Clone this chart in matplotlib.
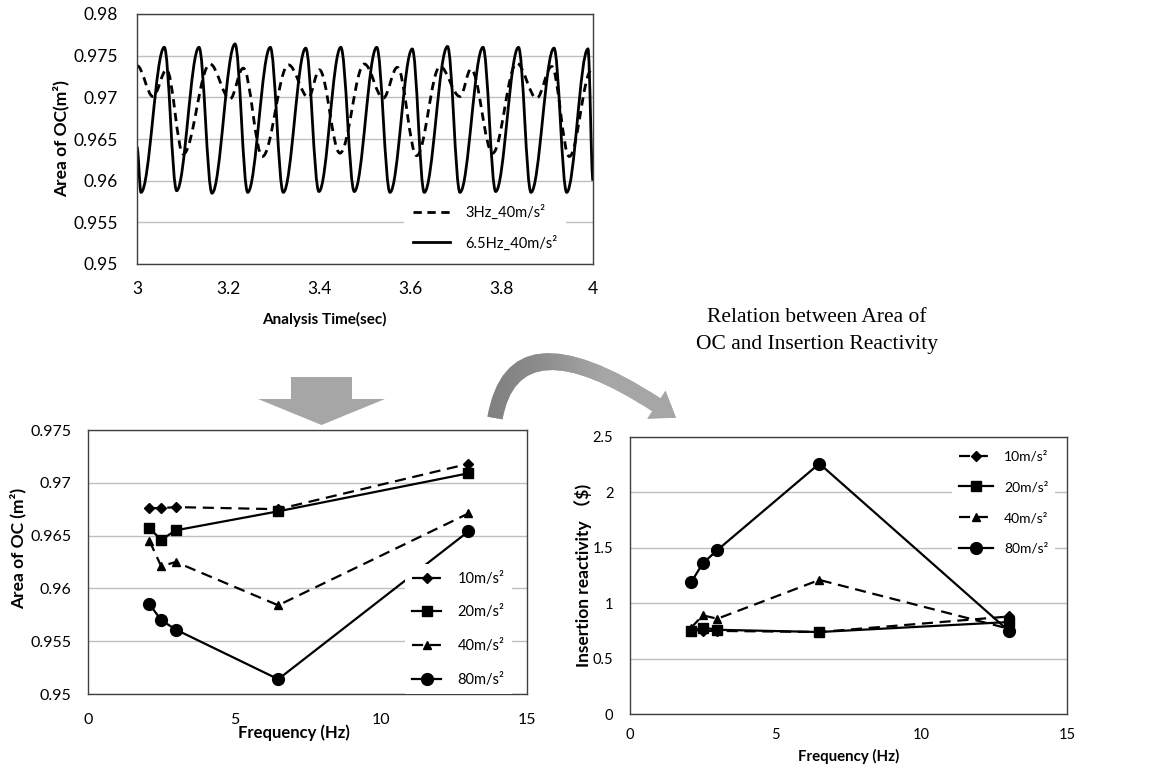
import numpy as np
import matplotlib
matplotlib.use("Agg")
import matplotlib.pyplot as plt
from matplotlib.path import Path
from matplotlib.patches import PathPatch, FancyArrowPatch, Polygon
from matplotlib.lines import Line2D
from matplotlib.colors import LinearSegmentedColormap

plt.rcParams['font.family'] = ['Lato', 'DejaVu Sans']

# ---- top chart: extrema (time, area) ----
t_3hz = [3.000, 3.035, 3.065, 3.1015, 3.160, 3.204, 3.233, 3.275, 3.332, 3.376,
         3.400, 3.445, 3.4985, 3.540, 3.571, 3.6134, 3.6645, 3.7083, 3.7325,
         3.780, 3.8327, 3.8765, 3.9094, 3.948, 3.997, 4.000]
a_3hz = [0.9738, 0.9701, 0.9733, 0.9632, 0.9740, 0.9698, 0.9735, 0.9629, 0.9739, 0.9700,
         0.9733, 0.9633, 0.9740, 0.9699, 0.9736, 0.9630, 0.9737, 0.9701, 0.9734,
         0.9633, 0.9741, 0.9699, 0.9737, 0.9629, 0.9733, 0.9734]

t_65hz = [3.000, 3.0088, 3.0599, 3.087, 3.136, 3.1645, 3.215, 3.2428, 3.2923, 3.3208,
          3.370, 3.399, 3.447, 3.4765, 3.5257, 3.5548, 3.6037, 3.630, 3.681, 3.7083,
          3.7588, 3.7866, 3.8366, 3.864, 3.9145, 3.9423, 3.989, 4.000]
a_65hz = [0.9640, 0.9586, 0.9760, 0.9588, 0.9760, 0.9585, 0.9764, 0.9586, 0.9760, 0.9586,
          0.9759, 0.9587, 0.9760, 0.9587, 0.9760, 0.9586, 0.9758, 0.9586, 0.9761, 0.9586,
          0.9760, 0.9587, 0.9760, 0.9586, 0.9759, 0.9586, 0.9758, 0.9600]

# ---- bottom charts ----
freq = [2.1, 2.5, 3, 6.5, 13]
area = {
    '10': [0.9676, 0.9676, 0.9677, 0.9675, 0.9718],
    '20': [0.9657, 0.9646, 0.9655, 0.9673, 0.9709],
    '40': [0.9645, 0.9621, 0.9625, 0.9584, 0.9671],
    '80': [0.9585, 0.9570, 0.9561, 0.9514, 0.9654],
}
react = {
    '10': [0.76, 0.75, 0.75, 0.74, 0.88],
    '20': [0.75, 0.78, 0.76, 0.74, 0.83],
    '40': [0.78, 0.89, 0.86, 1.21, 0.77],
    '80': [1.19, 1.36, 1.48, 2.26, 0.75],
}
series_style = {
    '10': dict(ls=(0, (5, 3)), marker='D', ms=5),
    '20': dict(ls='-', marker='s', ms=7),
    '40': dict(ls=(0, (5, 3)), marker='^', ms=6),
    '80': dict(ls='-', marker='o', ms=8.5),
}

W, H = 1176, 774
fig = plt.figure(figsize=(W / 100, H / 100), dpi=100)


def px_axes(l, t, r, b):
    return fig.add_axes([l / W, 1 - b / H, (r - l) / W, (b - t) / H])


def style_axes(ax, fs):
    for s in ax.spines.values():
        s.set_color('#404040')
        s.set_linewidth(1.0)
    ax.tick_params(length=0, labelsize=fs)
    ax.grid(axis='y', color='#BFBFBF', lw=1.0)
    ax.set_axisbelow(True)


def smooth_path(t, y, k=0.364):
    # cubic bezier through the read extrema, flat tangent at each one
    verts = [(t[0], y[0])]
    codes = [Path.MOVETO]
    for i in range(len(t) - 1):
        dt = t[i + 1] - t[i]
        verts += [(t[i] + k * dt, y[i]), (t[i + 1] - k * dt, y[i + 1]), (t[i + 1], y[i + 1])]
        codes += [Path.CURVE4] * 3
    return Path(verts, codes)


# ---------------- top chart ----------------
ax1 = px_axes(137, 14, 593, 264)
style_axes(ax1, 12.5)
ax1.set_xlim(3, 4)
ax1.set_ylim(0.95, 0.98)
ax1.set_xticks([3, 3.2, 3.4, 3.6, 3.8, 4])
ax1.set_xticklabels(['3', '3.2', '3.4', '3.6', '3.8', '4'])
ax1.set_yticks(np.arange(0.95, 0.9801, 0.005))
ax1.set_yticklabels(['0.95', '0.955', '0.96', '0.965', '0.97', '0.975', '0.98'])
ax1.tick_params(axis='y', pad=14)
ax1.tick_params(axis='x', pad=12)
ax1.add_patch(PathPatch(smooth_path(t_3hz, a_3hz), fill=False, lw=2.0,
                        ls=(0, (3, 2)), ec='black', capstyle='butt'))
ax1.add_patch(PathPatch(smooth_path(t_65hz, a_65hz), fill=False, lw=2.0,
                        ls='-', ec='black'))
h1 = [Line2D([], [], color='black', lw=2.0, ls=(0, (3, 2))),
      Line2D([], [], color='black', lw=2.0)]
leg = ax1.legend(h1, ['3Hz_40m/s²', '6.5Hz_40m/s²'], loc='center left',
                 bbox_to_anchor=(0.585, 0.145), fontsize=10.5, borderaxespad=0,
                 handlelength=2.6, handletextpad=1.0, labelspacing=1.05, frameon=True,
                 fancybox=False, framealpha=1, borderpad=0.6)
leg.get_frame().set_edgecolor('none')
ax1.set_xlabel('Analysis Time(sec)', fontsize=11, fontweight='bold')
ax1.set_ylabel('Area of OC(m²)', fontsize=12.5, fontweight='bold')
ax1.xaxis.set_label_coords(0.41, -0.19)
ax1.yaxis.set_label_coords(-0.148, 0.5)

# ---------------- bottom left ----------------
ax2 = px_axes(88, 430, 527, 694)
style_axes(ax2, 11.5)
ax2.set_xlim(0, 15)
ax2.set_ylim(0.95, 0.975)
ax2.set_xticks([0, 5, 10, 15])
ax2.set_yticks(np.arange(0.95, 0.9751, 0.005))
ax2.set_yticklabels(['0.95', '0.955', '0.96', '0.965', '0.97', '0.975'])
ax2.tick_params(axis='y', pad=12)
ax2.tick_params(axis='x', pad=14)
for key in ['10', '20', '40', '80']:
    st = series_style[key]
    ax2.plot(freq, area[key], color='black', lw=1.6, ls=st['ls'], marker=st['marker'],
             ms=st['ms'], label=key + 'm/s²')
leg2 = ax2.legend(loc='center right', bbox_to_anchor=(0.965, 0.245), fontsize=10.5,
                  handlelength=2.0, handletextpad=1.1, labelspacing=1.35, frameon=True,
                  fancybox=False, framealpha=1, borderaxespad=0, borderpad=0.5)
leg2.get_frame().set_edgecolor('none')
ax2.set_xlabel('Frequency (Hz)', fontsize=12, fontweight='bold')
ax2.set_ylabel('Area of OC (m²)', fontsize=12.5, fontweight='bold')
ax2.xaxis.set_label_coords(0.468, -0.115)
ax2.yaxis.set_label_coords(-0.14, 0.553)

# ---------------- bottom right ----------------
ax3 = px_axes(630, 437, 1067, 714)
style_axes(ax3, 10.5)
ax3.set_xlim(0, 15)
ax3.set_ylim(0, 2.5)
ax3.set_xticks([0, 5, 10, 15])
ax3.set_yticks([0, 0.5, 1, 1.5, 2, 2.5])
ax3.set_yticklabels(['0', '0.5', '1', '1.5', '2', '2.5'])
ax3.tick_params(axis='y', pad=12)
ax3.tick_params(axis='x', pad=10)
for key in ['10', '20', '40', '80']:
    st = series_style[key]
    ax3.plot(freq, react[key], color='black', lw=1.6, ls=st['ls'], marker=st['marker'],
             ms=st['ms'], label=key + 'm/s²')
leg3 = ax3.legend(loc='center right', bbox_to_anchor=(0.973, 0.763), fontsize=10,
                  handlelength=2.4, handletextpad=0.8, labelspacing=1.35, frameon=True,
                  fancybox=False, framealpha=1, borderaxespad=0, borderpad=0.5)
leg3.get_frame().set_edgecolor('none')
ax3.set_xlabel('Frequency (Hz)', fontsize=10.8, fontweight='bold')
ax3.set_ylabel('Insertion reactivity \uff08$)', fontsize=12.5, fontweight='bold',
               family=['Lato', 'Noto Sans CJK JP', 'DejaVu Sans'])
ax3.xaxis.set_label_coords(0.5, -0.125)
ax3.yaxis.set_label_coords(-0.088, 0.5)

# ---------------- arrows and note ----------------
def fx(x):
    return x / W


def fy(y):
    return 1 - y / H


down = [(291, 377), (352, 377), (352, 399), (385, 399), (321.5, 425), (258, 399), (291, 399)]
fig.patches.append(Polygon([(fx(x), fy(y)) for x, y in down], closed=True,
                           transform=fig.transFigure, fc='#A6A6A6', ec='none'))

# curved arrow, shaded darker on its rising side
arc = FancyArrowPatch((fx(495), fy(418)), (fx(676), fy(418)),
                      transform=fig.transFigure,
                      connectionstyle='angle3,angleA=80,angleB=145',
                      arrowstyle='simple,head_width=24,head_length=17,tail_width=11',
                      mutation_scale=1, shrinkA=0, shrinkB=0,
                      fc='#A6A6A6', ec='none')
fig.patches.append(arc)
gax = fig.add_axes([0, 0, 1, 1], zorder=5)
gax.set_xlim(0, 1)
gax.set_ylim(0, 1)
gax.axis('off')
grad_cmap = LinearSegmentedColormap.from_list(
    'g', [(0, '#7F7F7F'), (0.25, '#8C8C8C'), (0.55, '#A6A6A6'), (1, '#A6A6A6')])
grad = np.linspace(0, 1, 256).reshape(1, -1)
im = gax.imshow(grad, cmap=grad_cmap, aspect='auto',
                extent=[fx(484), fx(700), fy(435), fy(340)])
im.set_clip_path(arc)

fig.text(fx(817), fy(331), 'Relation between Area of\nOC and Insertion Reactivity',
         ha='center', va='center', fontsize=15.5, family=['Liberation Serif'],
         linespacing=1.5)

fig.savefig('out.png', dpi=100)
